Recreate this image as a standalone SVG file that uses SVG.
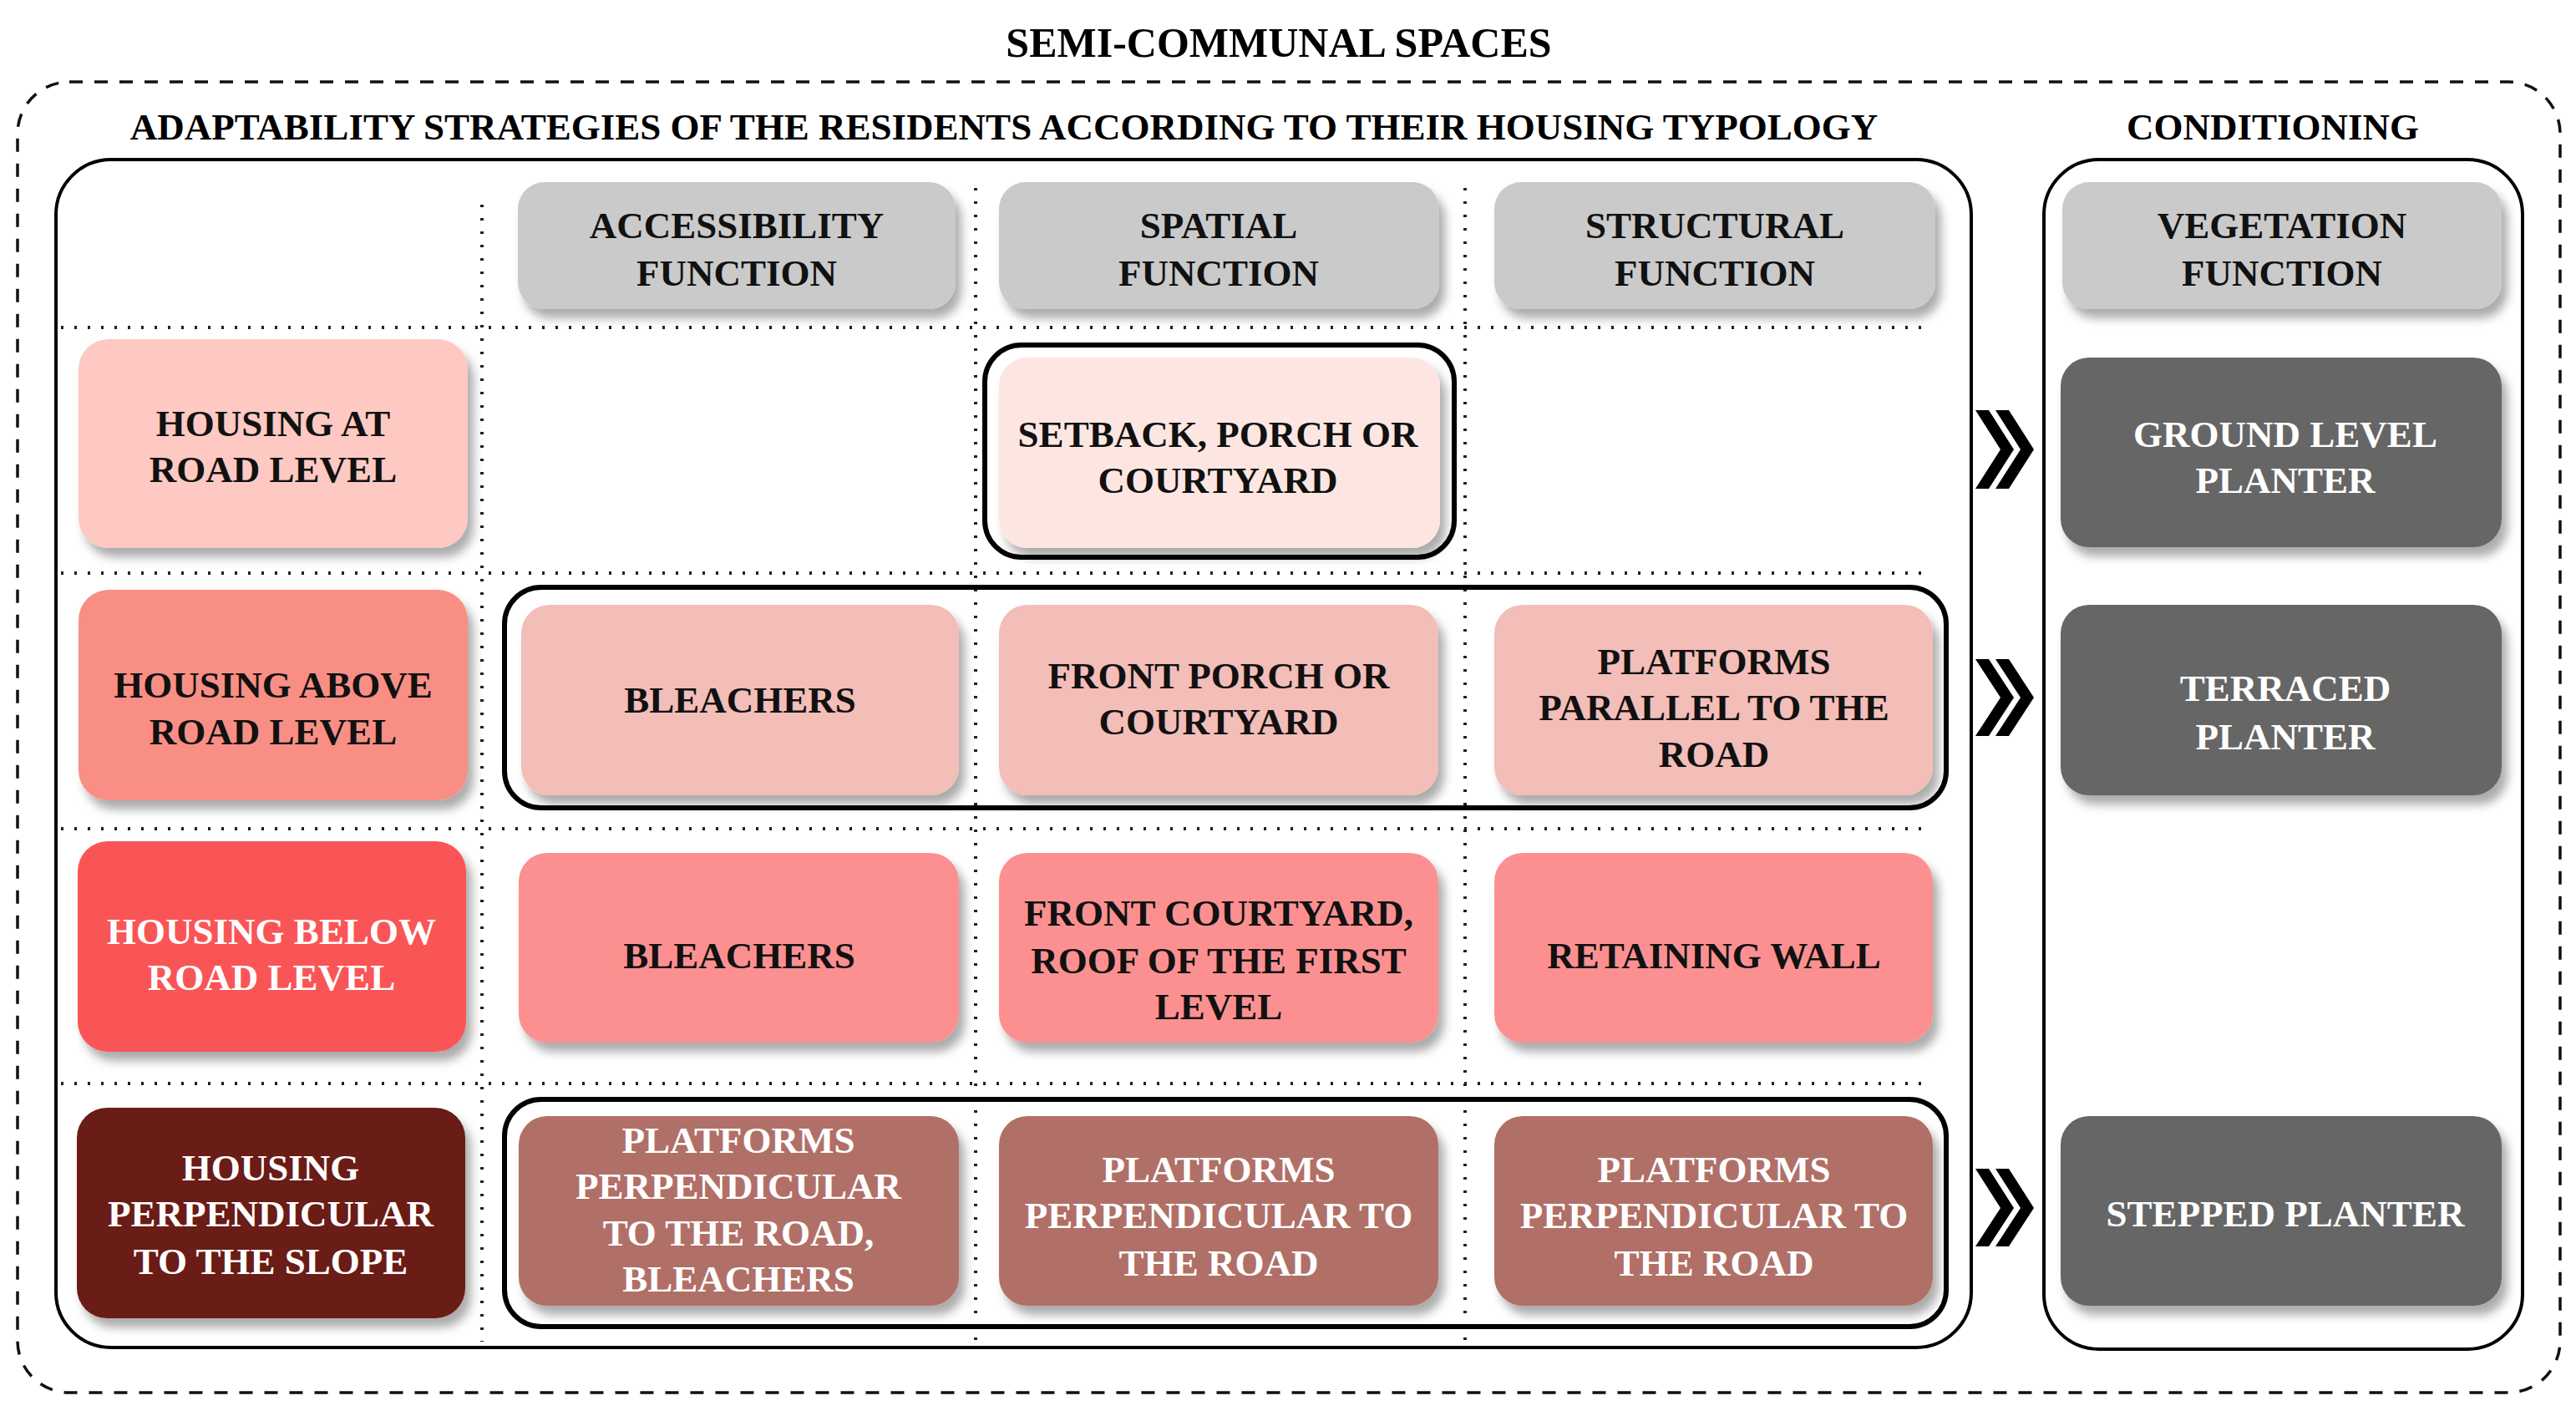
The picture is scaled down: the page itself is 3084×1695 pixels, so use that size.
<svg xmlns="http://www.w3.org/2000/svg" width="3084" height="1695" viewBox="0 0 3084 1695">
<style>
text{font-family:"Liberation Serif","Times New Roman",serif;font-weight:bold;font-size:45px;text-anchor:middle}
.w{fill:#ffffff}.k{fill:#111111}
.box{filter:url(#sh)}
.dot{stroke:#222;stroke-width:4;stroke-dasharray:3 13;fill:none}
.grp{fill:none;stroke:#000;stroke-width:6}
.frame{fill:none;stroke:#000;stroke-width:4}
</style>
<defs>
<filter id="sh" x="-10%" y="-10%" width="130%" height="140%">
<feDropShadow dx="7" dy="11" stdDeviation="6" flood-color="#000" flood-opacity="0.33"/>
</filter>
</defs>
<rect width="3084" height="1695" fill="#fff"/>
<text x="1531" y="68" style="font-size:50px">SEMI-COMMUNAL SPACES</text>
<rect x="21" y="98" width="3044" height="1569" rx="62" fill="none" stroke="#111" stroke-width="3.5" stroke-dasharray="16 14"/>
<text x="1202" y="167">ADAPTABILITY STRATEGIES OF THE RESIDENTS ACCORDING TO THEIR HOUSING TYPOLOGY</text>
<text x="2721" y="167">CONDITIONING</text>
<rect class="frame" x="67" y="191" width="2293" height="1422" rx="66"/>
<rect class="frame" x="2447" y="191" width="573" height="1424" rx="66"/>
<g id="grid">
<path class="dot" d="M73 392H2307M73 686H2307M73 992H2307M73 1297H2307"/>
<path class="dot" d="M577 245V1606M1168 225V1606M1754 225V1606"/>
</g>
<g id="header-accessibility"><rect class="box" x="620" y="218" width="524" height="152" rx="32" fill="#cacaca"/><text class="k" x="882" y="285">ACCESSIBILITY</text><text class="k" x="882" y="342">FUNCTION</text></g>
<g id="header-spatial"><rect class="box" x="1196" y="218" width="527" height="152" rx="32" fill="#cacaca"/><text class="k" x="1459" y="285">SPATIAL</text><text class="k" x="1459" y="342">FUNCTION</text></g>
<g id="header-structural"><rect class="box" x="1789" y="218" width="528" height="152" rx="32" fill="#cacaca"/><text class="k" x="2053" y="285">STRUCTURAL</text><text class="k" x="2053" y="342">FUNCTION</text></g>
<g id="header-vegetation"><rect class="box" x="2469" y="218" width="526" height="152" rx="32" fill="#cacaca"/><text class="k" x="2732" y="285">VEGETATION</text><text class="k" x="2732" y="342">FUNCTION</text></g>
<g id="row1-label"><rect class="box" x="94" y="406" width="466" height="250" rx="36" fill="#fdc9c2"/><text class="k" x="327" y="522">HOUSING AT</text><text class="k" x="327" y="577">ROAD LEVEL</text></g>
<g id="row2-label"><rect class="box" x="94" y="706" width="466" height="252" rx="36" fill="#f98f84"/><text class="k" x="327" y="835">HOUSING ABOVE</text><text class="k" x="327" y="891">ROAD LEVEL</text></g>
<g id="row3-label"><rect class="box" x="93" y="1007" width="465" height="252" rx="36" fill="#fa5556"/><text class="w" x="325" y="1130">HOUSING BELOW</text><text class="w" x="325" y="1185">ROAD LEVEL</text></g>
<g id="row4-label"><rect class="box" x="92" y="1326" width="465" height="252" rx="36" fill="#6a1f16"/><text class="w" x="324" y="1413">HOUSING</text><text class="w" x="324" y="1468">PERPENDICULAR</text><text class="w" x="324" y="1525">TO THE SLOPE</text></g>
<g id="row1-spatial"><rect class="box" x="1196" y="428" width="528" height="228" rx="34" fill="#fde6e2"/><rect class="grp" x="1179" y="413" width="562" height="254" rx="44"/><text class="k" x="1458" y="535">SETBACK, PORCH OR</text><text class="k" x="1458" y="590">COURTYARD</text></g>
<g id="row2-group"><rect class="grp" x="604" y="703" width="1726" height="264" rx="44"/></g>
<g id="row2-accessibility"><rect class="box" x="624" y="724" width="524" height="228" rx="34" fill="#f3bdb8"/><text class="k" x="886" y="853">BLEACHERS</text></g>
<g id="row2-spatial"><rect class="box" x="1196" y="724" width="526" height="228" rx="34" fill="#f3bdb8"/><text class="k" x="1459" y="824">FRONT PORCH OR</text><text class="k" x="1459" y="879">COURTYARD</text></g>
<g id="row2-structural"><rect class="box" x="1789" y="724" width="525" height="228" rx="34" fill="#f3bdb8"/><text class="k" x="2052" y="807">PLATFORMS</text><text class="k" x="2052" y="862">PARALLEL TO THE</text><text class="k" x="2052" y="918">ROAD</text></g>
<g id="row3-accessibility"><rect class="box" x="621" y="1021" width="527" height="227" rx="34" fill="#fc9091"/><text class="k" x="885" y="1159">BLEACHERS</text></g>
<g id="row3-spatial"><rect class="box" x="1196" y="1021" width="526" height="227" rx="34" fill="#fc9091"/><text class="k" x="1459" y="1108">FRONT COURTYARD,</text><text class="k" x="1459" y="1165">ROOF OF THE FIRST</text><text class="k" x="1459" y="1220">LEVEL</text></g>
<g id="row3-structural"><rect class="box" x="1789" y="1021" width="525" height="227" rx="34" fill="#fc9091"/><text class="k" x="2052" y="1159">RETAINING WALL</text></g>
<g id="row4-group"><rect class="grp" x="604" y="1316" width="1726" height="272" rx="44"/></g>
<g id="row4-accessibility"><rect class="box" x="621" y="1336" width="527" height="227" rx="34" fill="#b06f67"/><text class="w" x="884" y="1380">PLATFORMS</text><text class="w" x="884" y="1435">PERPENDICULAR</text><text class="w" x="884" y="1491">TO THE ROAD,</text><text class="w" x="884" y="1546">BLEACHERS</text></g>
<g id="row4-spatial"><rect class="box" x="1196" y="1336" width="526" height="227" rx="34" fill="#b06f67"/><text class="w" x="1459" y="1415">PLATFORMS</text><text class="w" x="1459" y="1470">PERPENDICULAR TO</text><text class="w" x="1459" y="1527">THE ROAD</text></g>
<g id="row4-structural"><rect class="box" x="1789" y="1336" width="525" height="227" rx="34" fill="#b06f67"/><text class="w" x="2052" y="1415">PLATFORMS</text><text class="w" x="2052" y="1470">PERPENDICULAR TO</text><text class="w" x="2052" y="1527">THE ROAD</text></g>
<g id="veg-ground"><rect class="box" x="2467" y="428" width="528" height="227" rx="34" fill="#666666"/><text class="w" x="2736" y="535">GROUND LEVEL</text><text class="w" x="2736" y="590">PLANTER</text></g>
<g id="veg-terraced"><rect class="box" x="2467" y="724" width="528" height="228" rx="34" fill="#666666"/><text class="w" x="2736" y="839">TERRACED</text><text class="w" x="2736" y="897">PLANTER</text></g>
<g id="veg-stepped"><rect class="box" x="2467" y="1336" width="528" height="227" rx="34" fill="#666666"/><text class="w" x="2736" y="1468">STEPPED PLANTER</text></g>
<g id="connectors" fill="#000">
<polygon points="2365,491 2381,491 2411,538 2381,585 2365,585 2395,538"/>
<polygon points="2389,491 2405,491 2435,538 2405,585 2389,585 2419,538"/>
<polygon points="2365,789 2381,789 2411,835 2381,881 2365,881 2395,835"/>
<polygon points="2389,789 2405,789 2435,835 2405,881 2389,881 2419,835"/>
<polygon points="2365,1399 2381,1399 2411,1446 2381,1492 2365,1492 2395,1446"/>
<polygon points="2389,1399 2405,1399 2435,1446 2405,1492 2389,1492 2419,1446"/>
</g>
</svg>
